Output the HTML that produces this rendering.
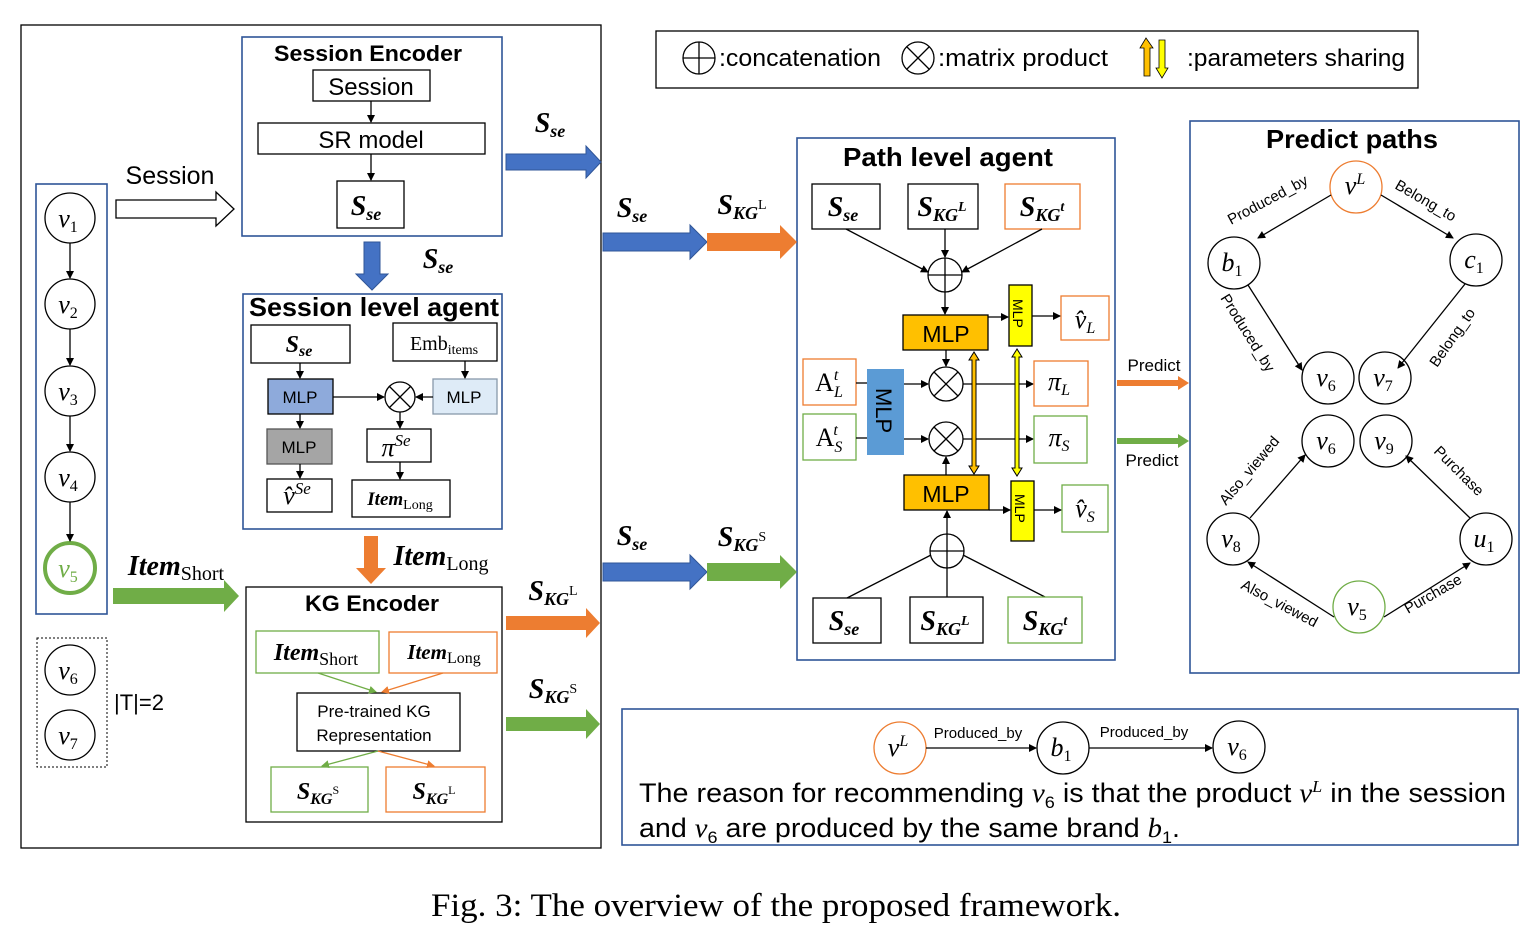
<!DOCTYPE html>
<html><head><meta charset="utf-8"><style>
html,body{margin:0;padding:0;background:#fff}
svg{display:block}
.s{font-family:"Liberation Sans",sans-serif}
.m{font-family:"Liberation Serif",serif;font-style:italic}
.b{font-family:"Liberation Serif",serif;font-style:italic;font-weight:bold}
.r{font-family:"Liberation Serif",serif}
</style></head><body>
<svg width="1536" height="933" viewBox="0 0 1536 933" xmlns="http://www.w3.org/2000/svg">
<defs>
<marker id="a" markerWidth="8" markerHeight="8" refX="7" refY="4" orient="auto" markerUnits="userSpaceOnUse"><path d="M0,0L8,4L0,8z" fill="#000"/></marker>
<marker id="ao" markerWidth="8" markerHeight="8" refX="7" refY="4" orient="auto" markerUnits="userSpaceOnUse"><path d="M0,0L8,4L0,8z" fill="#ed7d31"/></marker>
<marker id="ag" markerWidth="8" markerHeight="8" refX="7" refY="4" orient="auto" markerUnits="userSpaceOnUse"><path d="M0,0L8,4L0,8z" fill="#70ad47"/></marker>
</defs>
<g fill="none" stroke="#000" stroke-width="1.3">
<rect x="21" y="25" width="580" height="823"/>
<rect x="242" y="37" width="260" height="199" stroke="#2f5597" stroke-width="1.6"/>
<rect x="313" y="70" width="117" height="31"/>
<rect x="258" y="123" width="227" height="31"/>
<rect x="337" y="181" width="67" height="47"/>
<line x1="371" y1="101" x2="371" y2="122" marker-end="url(#a)"/>
<line x1="371" y1="154" x2="371" y2="180" marker-end="url(#a)"/>
<polygon points="116,200 216,200 216,192 234,209 216,226 216,218 116,218"/>
<rect x="36" y="184" width="71" height="430" stroke="#2f5597" stroke-width="1.6"/>
<circle cx="70" cy="218" r="25"/><circle cx="70" cy="304" r="25"/><circle cx="70" cy="391" r="25"/><circle cx="70" cy="477" r="25"/>
<circle cx="70" cy="568" r="25" stroke="#70ad47" stroke-width="4"/>
<line x1="70" y1="243" x2="70" y2="278" marker-end="url(#a)"/>
<line x1="70" y1="329" x2="70" y2="365" marker-end="url(#a)"/>
<line x1="70" y1="416" x2="70" y2="451" marker-end="url(#a)"/>
<line x1="70" y1="502" x2="70" y2="541" marker-end="url(#a)"/>
<rect x="37" y="638" width="70" height="129" stroke-dasharray="2,2" stroke-width="1"/>
<circle cx="70" cy="670" r="25"/><circle cx="70" cy="735" r="25"/>
<rect x="243" y="294" width="259" height="235" stroke="#2f5597" stroke-width="1.6"/>
<rect x="251" y="325" width="99" height="38"/>
<rect x="393" y="323" width="104" height="38"/>
<rect x="268" y="379" width="65" height="35" fill="#8eaadb"/>
<rect x="433" y="379" width="64" height="35" fill="#deebf7" stroke="#8899aa"/>
<rect x="267" y="429" width="65" height="35" fill="#a5a5a5" stroke="#555"/>
<rect x="367" y="429" width="64" height="33"/>
<rect x="267" y="479" width="65" height="33"/>
<rect x="352" y="480" width="98" height="37"/>
<circle cx="400" cy="397" r="15"/><path d="M389,386L411,408M411,386L389,408"/>
<line x1="300" y1="363" x2="300" y2="378" marker-end="url(#a)"/>
<line x1="465" y1="361" x2="465" y2="378" marker-end="url(#a)"/>
<line x1="333" y1="397" x2="384" y2="397" marker-end="url(#a)"/>
<line x1="433" y1="397" x2="416" y2="397" marker-end="url(#a)"/>
<line x1="300" y1="414" x2="300" y2="428" marker-end="url(#a)"/>
<line x1="300" y1="464" x2="300" y2="478" marker-end="url(#a)"/>
<line x1="400" y1="412" x2="400" y2="428" marker-end="url(#a)"/>
<line x1="400" y1="462" x2="400" y2="479" marker-end="url(#a)"/>
<rect x="246" y="587" width="256" height="235"/>
<rect x="256" y="631" width="123" height="42" stroke="#70ad47"/>
<rect x="389" y="632" width="108" height="41" stroke="#ed7d31"/>
<rect x="297" y="693" width="163" height="58"/>
<rect x="271" y="767" width="97" height="45" stroke="#70ad47"/>
<rect x="386" y="767" width="99" height="45" stroke="#ed7d31"/>
<line x1="318" y1="673" x2="376" y2="692" stroke="#70ad47" marker-end="url(#ag)"/>
<line x1="443" y1="673" x2="382" y2="692" stroke="#ed7d31" marker-end="url(#ao)"/>
<line x1="378" y1="751" x2="322" y2="766" stroke="#70ad47" marker-end="url(#ag)"/>
<line x1="378" y1="751" x2="434" y2="766" stroke="#ed7d31" marker-end="url(#ao)"/>
<rect x="656" y="31" width="762" height="57"/>
<circle cx="699" cy="58" r="16"/><path d="M683,58H715M699,42V74"/>
<circle cx="918" cy="58" r="16"/><path d="M907,47L929,69M929,47L907,69"/>
<rect x="797" y="138" width="318" height="522" stroke="#2f5597" stroke-width="1.6"/>
<rect x="812" y="184" width="68" height="45"/>
<rect x="908" y="184" width="70" height="45"/>
<rect x="1005" y="184" width="75" height="45" stroke="#ed7d31"/>
<circle cx="945" cy="275" r="17"/><path d="M928,275H962M945,258V292"/>
<line x1="846" y1="229" x2="928" y2="272" marker-end="url(#a)"/>
<line x1="945" y1="229" x2="945" y2="257" marker-end="url(#a)"/>
<line x1="1042" y1="229" x2="962" y2="272" marker-end="url(#a)"/>
<line x1="945" y1="292" x2="945" y2="314" marker-end="url(#a)"/>
<rect x="903" y="315" width="85" height="35" fill="#ffc000"/>
<rect x="1009" y="285" width="23" height="61" fill="#ffff00"/>
<rect x="1061" y="296" width="48" height="44" stroke="#ed7d31"/>
<line x1="988" y1="317" x2="1008" y2="317" marker-end="url(#a)"/>
<line x1="1032" y1="316" x2="1060" y2="316" marker-end="url(#a)"/>
<rect x="803" y="359" width="53" height="46" stroke="#ed7d31"/>
<rect x="803" y="414" width="53" height="46" stroke="#70ad47"/>
<rect x="867" y="369" width="37" height="86" fill="#5b9bd5" stroke="none"/>
<line x1="856" y1="383" x2="867" y2="383"/><line x1="856" y1="438" x2="867" y2="438"/>
<circle cx="946" cy="384" r="17"/><path d="M934,372L958,396M958,372L934,396"/>
<circle cx="946" cy="439" r="17"/><path d="M934,427L958,451M958,427L934,451"/>
<line x1="904" y1="384" x2="928" y2="384" marker-end="url(#a)"/>
<line x1="904" y1="439" x2="928" y2="439" marker-end="url(#a)"/>
<line x1="946" y1="350" x2="946" y2="366" marker-end="url(#a)"/>
<line x1="946" y1="475" x2="946" y2="457" marker-end="url(#a)"/>
<line x1="963" y1="384" x2="1033" y2="384" marker-end="url(#a)"/>
<line x1="963" y1="439" x2="1033" y2="439" marker-end="url(#a)"/>
<rect x="1034" y="361" width="54" height="45" stroke="#ed7d31"/>
<rect x="1034" y="416" width="53" height="47" stroke="#70ad47"/>
<path d="M974,352L969,360H972V466H969L974,474L979,466H976V360H979Z" fill="#ffc000" stroke="#000" stroke-width="1"/>
<path d="M1017,349L1012,357H1015V468H1012L1017,476L1022,468H1019V357H1022Z" fill="#ffff00" stroke="#000" stroke-width="1"/>
<rect x="904" y="475" width="85" height="35" fill="#ffc000"/>
<rect x="1011" y="481" width="23" height="60" fill="#ffff00"/>
<rect x="1062" y="485" width="46" height="47" stroke="#70ad47"/>
<line x1="989" y1="510" x2="1010" y2="510" marker-end="url(#a)"/>
<line x1="1034" y1="510" x2="1061" y2="510" marker-end="url(#a)"/>
<circle cx="947" cy="551" r="17"/><path d="M930,551H964M947,534V568"/>
<line x1="947" y1="534" x2="947" y2="511" marker-end="url(#a)"/>
<line x1="847" y1="598" x2="931" y2="555"/>
<line x1="947" y1="597" x2="947" y2="568"/>
<line x1="1045" y1="597" x2="963" y2="555"/>
<rect x="813" y="598" width="68" height="45"/>
<rect x="910" y="597" width="73" height="46"/>
<rect x="1008" y="597" width="74" height="46" stroke="#70ad47"/>
<rect x="1190" y="121" width="329" height="552" stroke="#2f5597" stroke-width="1.6"/>
<circle cx="1356" cy="187" r="26" stroke="#ed7d31"/>
<circle cx="1234" cy="263" r="26"/><circle cx="1476" cy="260" r="26"/>
<circle cx="1328" cy="378" r="26"/><circle cx="1385" cy="378" r="26"/>
<circle cx="1328" cy="441" r="26"/><circle cx="1386" cy="441" r="26"/>
<circle cx="1233" cy="539" r="26"/><circle cx="1486" cy="539" r="26"/>
<circle cx="1359" cy="607" r="26" stroke="#70ad47"/>
<line x1="1331" y1="195" x2="1258" y2="238" marker-end="url(#a)"/>
<line x1="1381" y1="195" x2="1453" y2="238" marker-end="url(#a)"/>
<line x1="1248" y1="285" x2="1302" y2="370" marker-end="url(#a)"/>
<line x1="1465" y1="284" x2="1398" y2="368" marker-end="url(#a)"/>
<line x1="1250" y1="518" x2="1305" y2="455" marker-end="url(#a)"/>
<line x1="1470" y1="518" x2="1406" y2="456" marker-end="url(#a)"/>
<line x1="1334" y1="617" x2="1248" y2="562" marker-end="url(#a)"/>
<line x1="1384" y1="617" x2="1470" y2="563" marker-end="url(#a)"/>
<rect x="622" y="709" width="896" height="136" stroke="#2f5597" stroke-width="1.6"/>
<circle cx="900" cy="748" r="26" stroke="#ed7d31"/>
<circle cx="1063" cy="748" r="26"/><circle cx="1239" cy="747" r="26"/>
<line x1="926" y1="748" x2="1036" y2="748" marker-end="url(#a)"/>
<line x1="1089" y1="748" x2="1212" y2="748" marker-end="url(#a)"/>
</g>
<g stroke="#2f5597" stroke-width="1">
<polygon points="506,154 586,154 586,146 601,162 586,178 586,170 506,170" fill="#4472c4"/>
<polygon points="364,242 380,242 380,274 388,274 372,290 356,274 364,274" fill="#4472c4"/>
<polygon points="603,233 690,233 690,225 707,242 690,259 690,251 603,251" fill="#4472c4"/>
<polygon points="603,563 690,563 690,555 707,572 690,589 690,581 603,581" fill="#4472c4"/>
</g>
<polygon points="707,233 780,233 780,225 797,242 780,259 780,251 707,251" fill="#ed7d31"/>
<polygon points="707,563 780,563 780,555 797,572 780,589 780,581 707,581" fill="#70ad47"/>
<polygon points="364,536 378,536 378,568 386,568 371,584 356,568 364,568" fill="#ed7d31"/>
<polygon points="113,588 224,588 224,580 239,596 224,612 224,604 113,604" fill="#70ad47"/>
<polygon points="506,616 586,616 586,608 600,623 586,638 586,630 506,630" fill="#ed7d31"/>
<polygon points="506,717 586,717 586,709 600,724 586,739 586,731 506,731" fill="#70ad47"/>
<polygon points="1117,380 1178,380 1178,376 1189,383 1178,390 1178,386 1117,386" fill="#ed7d31"/>
<polygon points="1117,438 1178,438 1178,434 1189,441 1178,448 1178,444 1117,444" fill="#70ad47"/>
<path d="M1146,38L1140,48H1144V76H1150V48H1153Z" fill="#ffc000" stroke="#000" stroke-width="0.8"/>
<path d="M1162,78L1156,68H1159V40H1165V68H1168Z" fill="#ffff00" stroke="#000" stroke-width="0.8"/>
<g class="s" fill="#000" text-anchor="middle">
<text x="368" y="61" font-size="22" font-weight="bold" textLength="188" lengthAdjust="spacingAndGlyphs">Session Encoder</text>
<text x="371" y="95" font-size="24">Session</text>
<text x="371" y="148" font-size="24">SR model</text>
<text x="170" y="184" font-size="25">Session</text>
<text x="374" y="316" font-size="26" font-weight="bold" textLength="250" lengthAdjust="spacingAndGlyphs">Session level agent</text>
<text x="300" y="403" font-size="17">MLP</text>
<text x="464" y="403" font-size="17">MLP</text>
<text x="299" y="453" font-size="17">MLP</text>
<text x="372" y="611" font-size="22" font-weight="bold" textLength="134" lengthAdjust="spacingAndGlyphs">KG Encoder</text>
<text x="374" y="717" font-size="17">Pre-trained KG</text>
<text x="374" y="741" font-size="17">Representation</text>
<text x="948" y="166" font-size="26" font-weight="bold" textLength="210" lengthAdjust="spacingAndGlyphs">Path level agent</text>
<text x="946" y="342" font-size="23">MLP</text>
<text x="946" y="502" font-size="23">MLP</text>
<text x="1352" y="148" font-size="26" font-weight="bold" textLength="172" lengthAdjust="spacingAndGlyphs">Predict paths</text>
<text x="1154" y="371" font-size="17">Predict</text>
<text x="1152" y="466" font-size="17">Predict</text>
<text x="978" y="738" font-size="15">Produced_by</text>
<text x="1144" y="737" font-size="15">Produced_by</text>
</g>
<g class="s" font-size="15">
<text transform="translate(1231,225) rotate(-28)">Produced_by</text>
<text transform="translate(1394,188) rotate(30)">Belong_to</text>
<text transform="translate(1220,298) rotate(58)">Produced_by</text>
<text transform="translate(1437,368) rotate(-55)">Belong_to</text>
<text transform="translate(1226,506) rotate(-50)">Also_viewed</text>
<text transform="translate(1433,452) rotate(45)">Purchase</text>
<text transform="translate(1240,588) rotate(28)">Also_viewed</text>
<text transform="translate(1408,614) rotate(-30)">Purchase</text>
<text transform="translate(1013,299) rotate(90)" font-size="14">MLP</text>
<text transform="translate(1015,494) rotate(90)" font-size="14">MLP</text>
<text transform="translate(876,388) rotate(90)" font-size="22">MLP</text>
</g>
<g class="s" font-size="24">
<text x="719" y="66" textLength="162" lengthAdjust="spacingAndGlyphs">:concatenation</text>
<text x="938" y="66" textLength="170" lengthAdjust="spacingAndGlyphs">:matrix product</text>
<text x="1187" y="66" textLength="218" lengthAdjust="spacingAndGlyphs">:parameters sharing</text>
<text x="114" y="710" font-size="22">|T|=2</text>
</g>
<g class="s" font-size="27">
<text x="639" y="802" textLength="867" lengthAdjust="spacingAndGlyphs">The reason for recommending <tspan class="m">v</tspan><tspan font-size="17" dy="6">6</tspan><tspan dy="-6"> is that the product </tspan><tspan class="m">v</tspan><tspan class="m" font-size="17" dy="-10">L</tspan><tspan dy="10"> in the session</tspan></text>
<text x="639" y="837" textLength="541" lengthAdjust="spacingAndGlyphs">and <tspan class="m">v</tspan><tspan font-size="17" dy="6">6</tspan><tspan dy="-6"> are produced by the same brand </tspan><tspan class="m">b</tspan><tspan font-size="17" dy="6">1</tspan><tspan dy="-6">.</tspan></text>
</g>
<g class="m" font-size="26" text-anchor="middle">
<text x="68" y="227">v<tspan font-size="16" font-style="normal" dy="5">1</tspan></text>
<text x="68" y="313">v<tspan font-size="16" font-style="normal" dy="5">2</tspan></text>
<text x="68" y="400">v<tspan font-size="16" font-style="normal" dy="5">3</tspan></text>
<text x="68" y="486">v<tspan font-size="16" font-style="normal" dy="5">4</tspan></text>
<text x="68" y="577" fill="#70ad47">v<tspan font-size="16" font-style="normal" dy="5">5</tspan></text>
<text x="68" y="679">v<tspan font-size="16" font-style="normal" dy="5">6</tspan></text>
<text x="68" y="744">v<tspan font-size="16" font-style="normal" dy="5">7</tspan></text>
<text x="1355" y="194">v<tspan font-size="16" dy="-10">L</tspan></text>
<text x="1232" y="271">b<tspan font-size="16" font-style="normal" dy="5">1</tspan></text>
<text x="1474" y="268">c<tspan font-size="16" font-style="normal" dy="5">1</tspan></text>
<text x="1326" y="386">v<tspan font-size="16" font-style="normal" dy="5">6</tspan></text>
<text x="1383" y="386">v<tspan font-size="16" font-style="normal" dy="5">7</tspan></text>
<text x="1326" y="449">v<tspan font-size="16" font-style="normal" dy="5">6</tspan></text>
<text x="1384" y="449">v<tspan font-size="16" font-style="normal" dy="5">9</tspan></text>
<text x="1231" y="547">v<tspan font-size="16" font-style="normal" dy="5">8</tspan></text>
<text x="1484" y="547">u<tspan font-size="16" font-style="normal" dy="5">1</tspan></text>
<text x="1357" y="615">v<tspan font-size="16" font-style="normal" dy="5">5</tspan></text>
<text x="898" y="756">v<tspan font-size="16" dy="-10">L</tspan></text>
<text x="1061" y="756">b<tspan font-size="16" font-style="normal" dy="5">1</tspan></text>
<text x="1237" y="755">v<tspan font-size="16" font-style="normal" dy="5">6</tspan></text>
<text x="1085" y="328">v̂<tspan font-size="16" dy="5">L</tspan></text>
<text x="1085" y="517">v̂<tspan font-size="16" dy="5">S</tspan></text>
<text x="1059" y="390">π<tspan font-size="16" dy="5">L</tspan></text>
<text x="1059" y="446">π<tspan font-size="16" dy="5">S</tspan></text>
<text x="829" y="391" font-style="normal">A<tspan class="m" font-size="16" dy="6">L</tspan><tspan class="m" font-size="16" dx="-9" dy="-17">t</tspan></text>
<text x="829" y="446" font-style="normal">A<tspan class="m" font-size="16" dy="6">S</tspan><tspan class="m" font-size="16" dx="-9" dy="-17">t</tspan></text>
<text x="396" y="456">π<tspan font-size="17" dy="-10">Se</tspan></text>
<text x="297" y="504">v̂<tspan font-size="17" dy="-10">Se</tspan></text>
</g>
<g class="r" font-size="20" text-anchor="middle">
<text x="444" y="350">Emb<tspan font-size="14" dy="4">items</tspan></text>
</g>
<g class="b" font-size="28" text-anchor="middle">
<text x="366" y="215">S<tspan font-size="18" dy="5">se</tspan></text>
<text x="550" y="132">S<tspan font-size="18" dy="5">se</tspan></text>
<text x="438" y="268">S<tspan font-size="18" dy="5">se</tspan></text>
<text x="299" y="352" font-size="24">S<tspan font-size="16" dy="4">se</tspan></text>
<text x="632" y="217">S<tspan font-size="18" dy="5">se</tspan></text>
<text x="632" y="545">S<tspan font-size="18" dy="5">se</tspan></text>
<text x="742" y="214">S<tspan font-size="18" dy="5">KG</tspan><tspan font-size="14" font-style="normal" font-weight="normal" dy="-10">L</tspan></text>
<text x="742" y="546">S<tspan font-size="18" dy="5">KG</tspan><tspan font-size="14" font-style="normal" font-weight="normal" dy="-10">S</tspan></text>
<text x="553" y="600">S<tspan font-size="18" dy="5">KG</tspan><tspan font-size="14" font-style="normal" font-weight="normal" dy="-10">L</tspan></text>
<text x="553" y="698">S<tspan font-size="18" dy="5">KG</tspan><tspan font-size="14" font-style="normal" font-weight="normal" dy="-10">S</tspan></text>
<text x="318" y="799" font-size="24">S<tspan font-size="16" dy="5">KG</tspan><tspan font-size="12" font-style="normal" font-weight="normal" dy="-10">S</tspan></text>
<text x="434" y="799" font-size="24">S<tspan font-size="16" dy="5">KG</tspan><tspan font-size="12" font-style="normal" font-weight="normal" dy="-10">L</tspan></text>
<text x="843" y="216">S<tspan font-size="18" dy="5">se</tspan></text>
<text x="942" y="216">S<tspan font-size="18" dy="5">KG</tspan><tspan font-size="14" dy="-10">L</tspan></text>
<text x="1042" y="216">S<tspan font-size="18" dy="5">KG</tspan><tspan font-size="14" dy="-10">t</tspan></text>
<text x="844" y="630">S<tspan font-size="18" dy="5">se</tspan></text>
<text x="945" y="630">S<tspan font-size="18" dy="5">KG</tspan><tspan font-size="14" dy="-10">L</tspan></text>
<text x="1045" y="630">S<tspan font-size="18" dy="5">KG</tspan><tspan font-size="14" dy="-10">t</tspan></text>
<text x="176" y="575" font-size="28">Item<tspan font-size="20" font-style="normal" font-weight="normal" dy="5">Short</tspan></text>
<text x="441" y="565" font-size="28">Item<tspan font-size="20" font-style="normal" font-weight="normal" dy="5">Long</tspan></text>
<text x="316" y="660" font-size="24">Item<tspan font-size="18" font-style="normal" font-weight="normal" dy="5">Short</tspan></text>
<text x="444" y="659" font-size="21">Item<tspan font-size="16" font-style="normal" font-weight="normal" dy="4">Long</tspan></text>
<text x="400" y="505" font-size="19">Item<tspan font-size="14" font-style="normal" font-weight="normal" dy="4">Long</tspan></text>
</g>
<text x="431" y="916" class="r" font-size="33" textLength="690" lengthAdjust="spacingAndGlyphs">Fig. 3: The overview of the proposed framework.</text>
</svg>
</body></html>
